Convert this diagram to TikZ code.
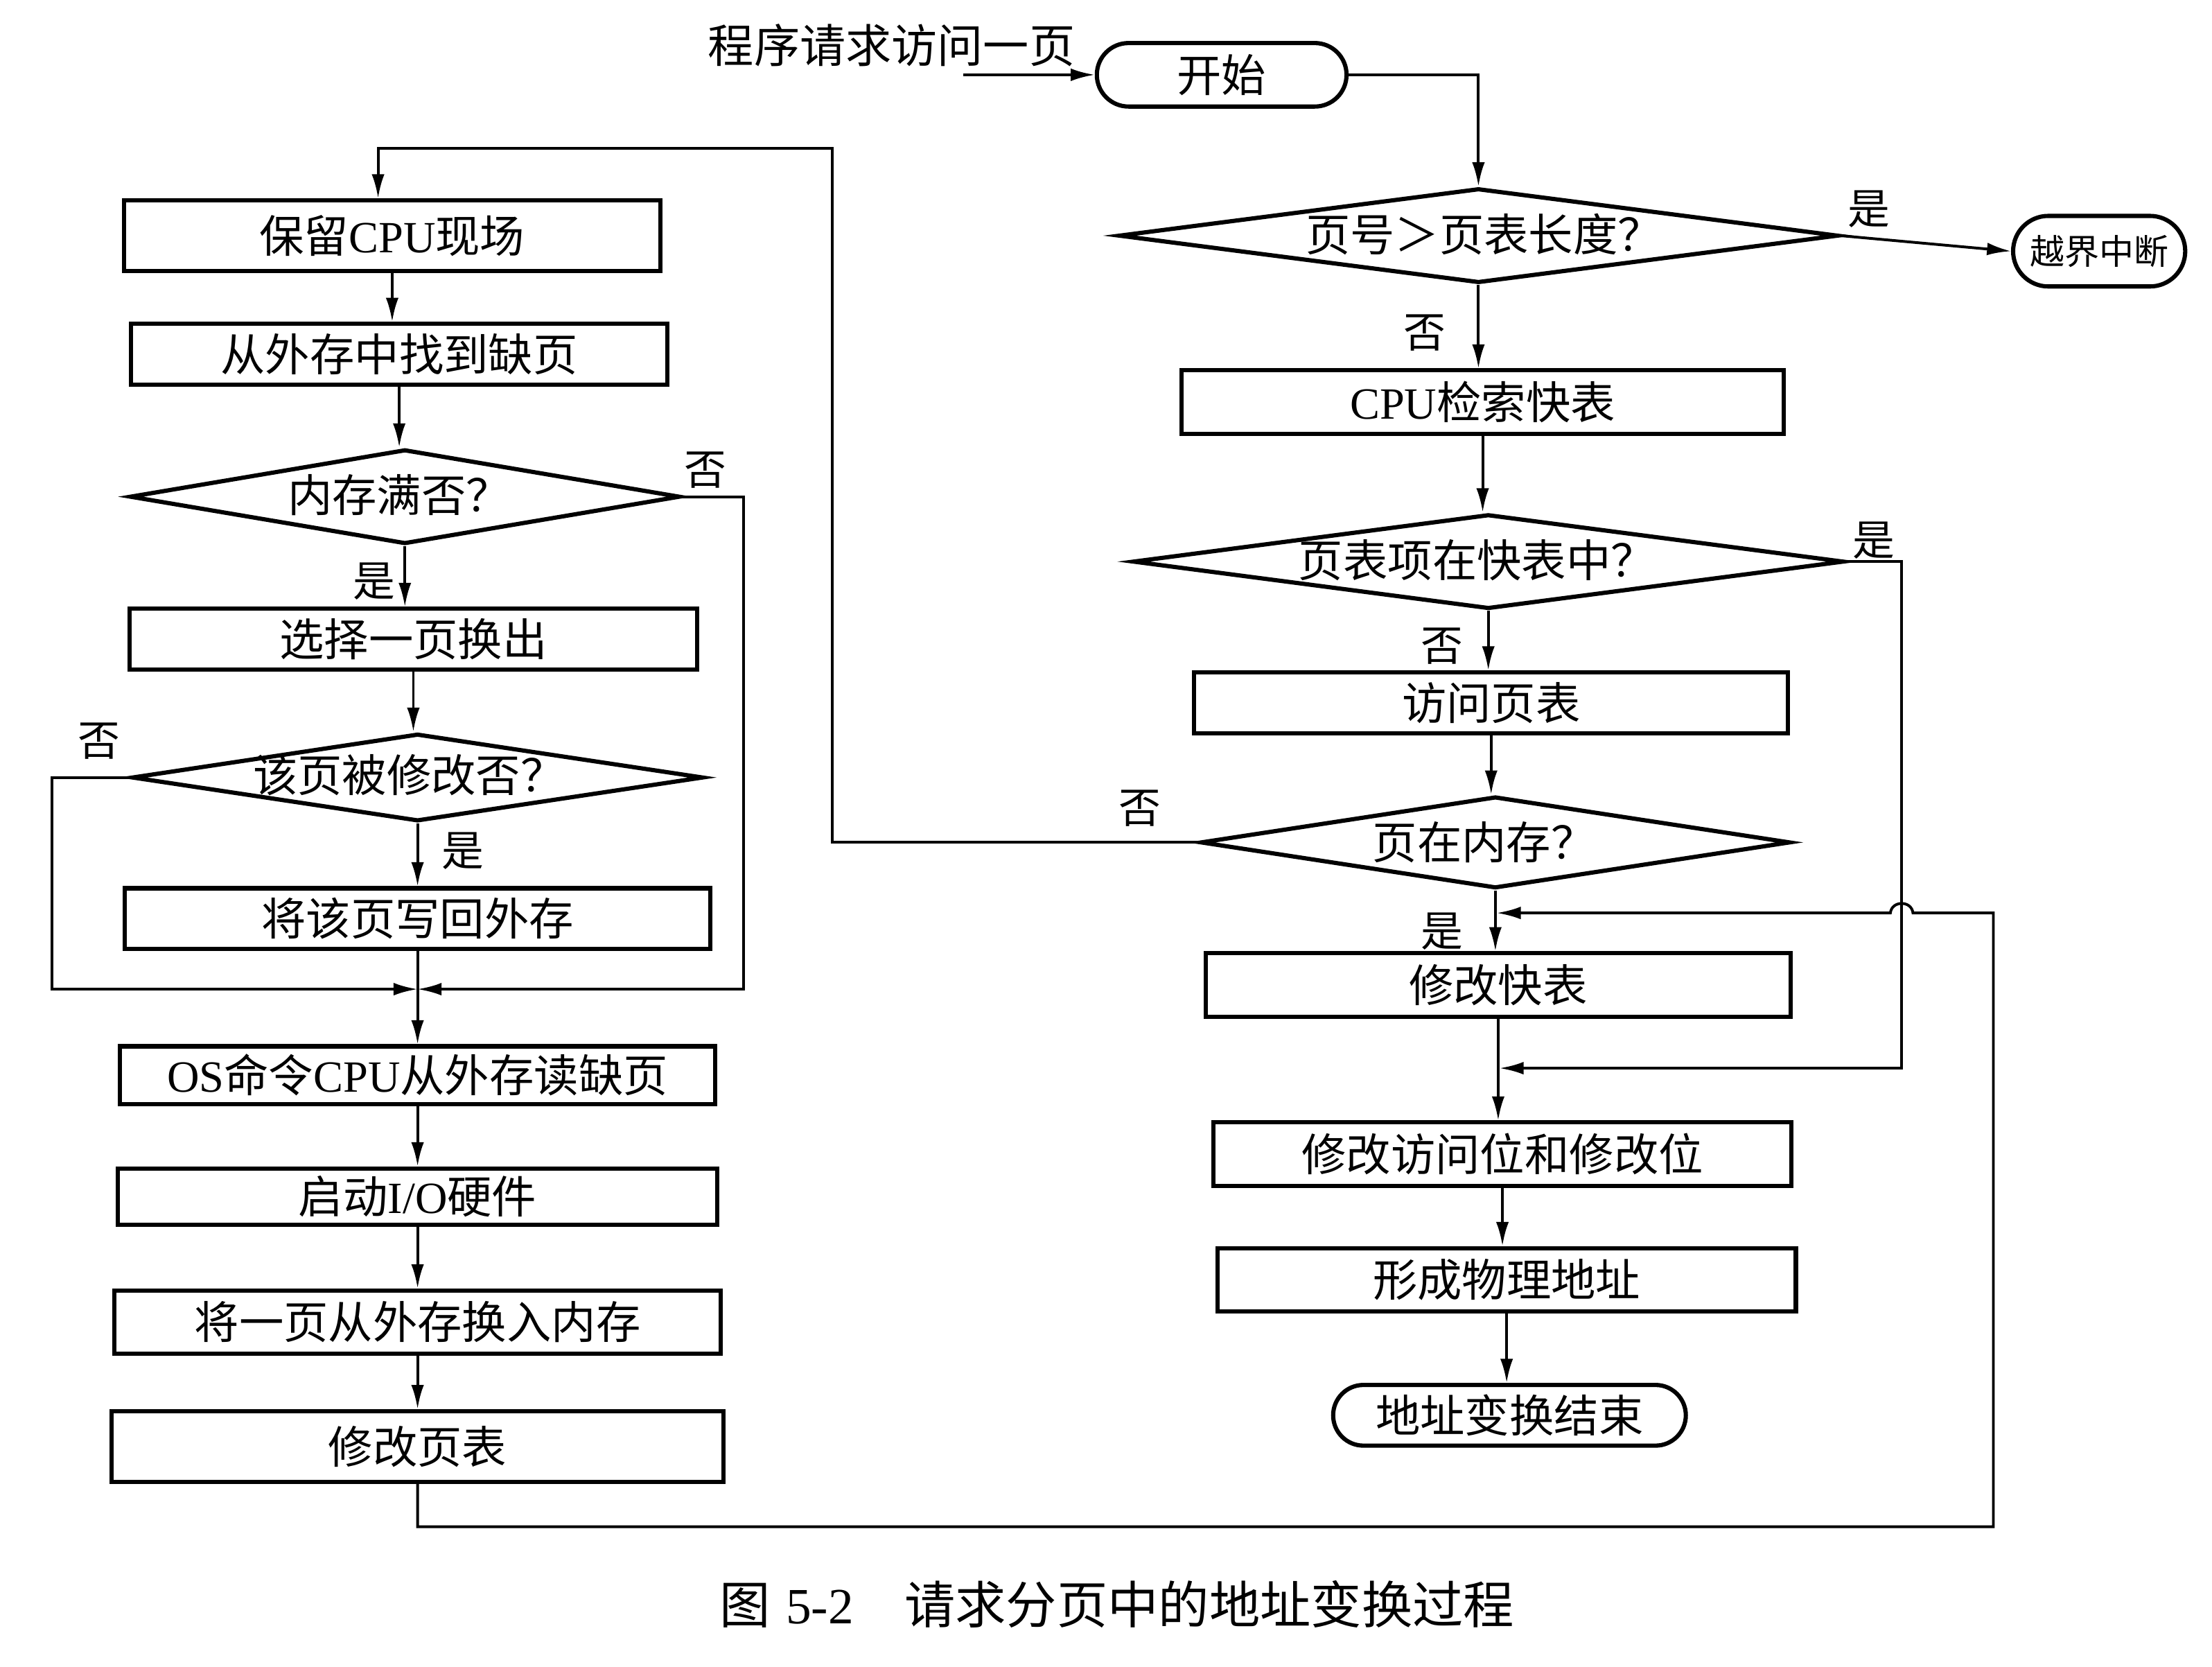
\documentclass[tikz,border=0pt]{standalone}
\usepackage{fontspec}
\setmainfont{Noto Sans CJK SC}
\newfontfamily\lat{Liberation Serif}
\usetikzlibrary{shapes.geometric,arrows.meta}
\begin{document}
\begin{tikzpicture}[x=0.02cm,y=-0.02cm,
  every node/.style={font=\fontsize{18}{21}\selectfont, inner sep=0pt},
  box/.style 2 args={draw, line width=1.7pt, rectangle, minimum width=#1*0.02cm, minimum height=#2*0.02cm},
  dia/.style 2 args={draw, line width=1.7pt, diamond, minimum width=#1*0.02cm, minimum height=#2*0.02cm},
  term/.style 2 args={draw, line width=1.7pt, rectangle, rounded corners=#2*0.01cm, minimum width=#1*0.02cm, minimum height=#2*0.02cm},
  conn/.style={line width=1.1pt, -{Latex[length=3.4mm,width=1.8mm]}},
  lbl/.style={font=\fontsize{17}{20}\selectfont}
]
\useasboundingbox (0,0) rectangle (1568,1181);

% ---------- right column ----------
\node[font=\fontsize{18.5}{21}\selectfont] (req) at (632,32) {程序请求访问一页};
\coordinate (reqa) at (683,53);
\node[term={177}{45}] (start) at (866,53) {开始};
\node[dia={510}{67}] (d1) at (1048,167) {};
\node (d1t) at (1052,166) {页号＞页表长度？};
\node[term={122}{50}, font=\fontsize{14}{16}\selectfont] (oob) at (1488,178) {越界中断};
\node[box={427}{45}] (bcpu) at (1051,285) {{\lat CPU}检索快表};
\node[dia={504}{67}] (d2) at (1055,398) {};
\node (d2t) at (1047,397) {页表项在快表中？};
\node[box={421}{43}] (bvisit) at (1057,498) {访问页表};
\node[dia={418}{65}] (d3) at (1060,597) {};
\node (d3t) at (1052,597) {页在内存？};
\node[box={415}{45}] (btlb) at (1062,698) {修改快表};
\node[box={410}{45}] (bbits) at (1065,818) {修改访问位和修改位};
\node[box={410}{45}] (bphys) at (1068,907) {形成物理地址};
\node[term={250}{43}] (fin) at (1070,1003) {地址变换结束};

\node[lbl] (y1) at (1325,148) {是};
\node[lbl] (n1) at (1010,236) {否};
\node[lbl] (y2) at (1328,383) {是};
\node[lbl] (n2) at (1022,458) {否};
\node[lbl] (n3) at (808,573) {否};
\node[lbl] (y3) at (1022,660) {是};

% ---------- left column ----------
\node[box={380}{50}] (bkeep) at (278,167) {保留{\lat CPU}现场};
\node[box={380}{43}] (bfind) at (283,251) {从外存中找到缺页};
\node[dia={390}{67}] (dfull) at (287,352) {};
\node (dfullt) at (283,351) {内存满否？};
\node[box={402}{43}] (bsel) at (293,453) {选择一页换出};
\node[dia={405}{62}] (dmod) at (296,551) {};
\node (dmodt) at (290,549) {该页被修改否？};
\node[box={415}{43}] (bwrite) at (296,651) {将该页写回外存};
\node[box={422}{41}] (bos) at (296,762) {{\lat OS}命令{\lat CPU}从外存读缺页};
\node[box={425}{40}] (bio) at (296,848) {启动{\lat I/O}硬件};
\node[box={430}{45}] (bswap) at (296,937) {将一页从外存换入内存};
\node[box={434}{50}] (bpt) at (296,1025) {修改页表};

\node[lbl] (n4) at (500,333) {否};
\node[lbl] (y4) at (265,412) {是};
\node[lbl] (n5) at (70,525) {否};
\node[lbl] (y5) at (328,603) {是};

\node[anchor=west, font=\fontsize{20.5}{24}\selectfont] (cap) at (510,1137) {图\hspace{0.3em}{\lat 5-2}\hspace{1.0em}请求分页中的地址变换过程};

% ---------- connectors right ----------
\draw[conn] (reqa) -- (start.west);
\draw[conn] (start.east) -| (d1.north);
\draw[conn] (d1.east) -- (oob.west);
\draw[conn] (d1.south) -- (d1.south |- bcpu.north);
\draw[conn] (bcpu.south) -- (bcpu.south |- d2.north);
\draw[conn] (d2.south) -- (d2.south |- bvisit.north);
\draw[conn] (bvisit.south) -- (bvisit.south |- d3.north);
\draw[conn] (d3.south) -- (d3.south |- btlb.north);
\draw[conn] (btlb.south) -- (btlb.south |- bbits.north);
\draw[conn] (bbits.south) -- (bbits.south |- bphys.north);
\draw[conn] (bphys.south) -- (bphys.south |- fin.north);

\coordinate (mA) at (1061,647);
\coordinate (mB) at (1063,757);
\draw[conn] (d2.east) -- (1348,398) -- (1348,757) -- (mB);
\draw[conn] (bpt.south) -- (296,1082) -- (1413,1082) -- (1413,647) -- (1356,647)
   .. controls (1355,638) and (1341,638) .. (1340,647) -- (mA);
\coordinate (kp) at (268,105);
\draw[conn] (d3.west) -- (590,597) -- (590,105) -- (kp) -- (kp |- bkeep.north);

% ---------- connectors left ----------
\draw[conn] (bkeep.south) -- (bkeep.south |- bfind.north);
\draw[conn] (bfind.south) -- (bfind.south |- dfull.north);
\draw[conn] (dfull.south) -- (dfull.south |- bsel.north);
\draw[conn] (bsel.south) -- (bsel.south |- dmod.north);
\draw[conn] (dmod.south) -- (dmod.south |- bwrite.north);
\draw[conn] (bwrite.south) -- (bwrite.south |- bos.north);
\draw[conn] (bos.south) -- (bos.south |- bio.north);
\draw[conn] (bio.south) -- (bio.south |- bswap.north);
\draw[conn] (bswap.south) -- (bswap.south |- bpt.north);
\coordinate (mC) at (296,701);
\draw[conn] (dfull.east) -- (527,352) -- (527,701) -- (mC);
\draw[conn] (dmod.west) -- (37,551) -- (37,701) -- (mC);
\end{tikzpicture}
\end{document}
